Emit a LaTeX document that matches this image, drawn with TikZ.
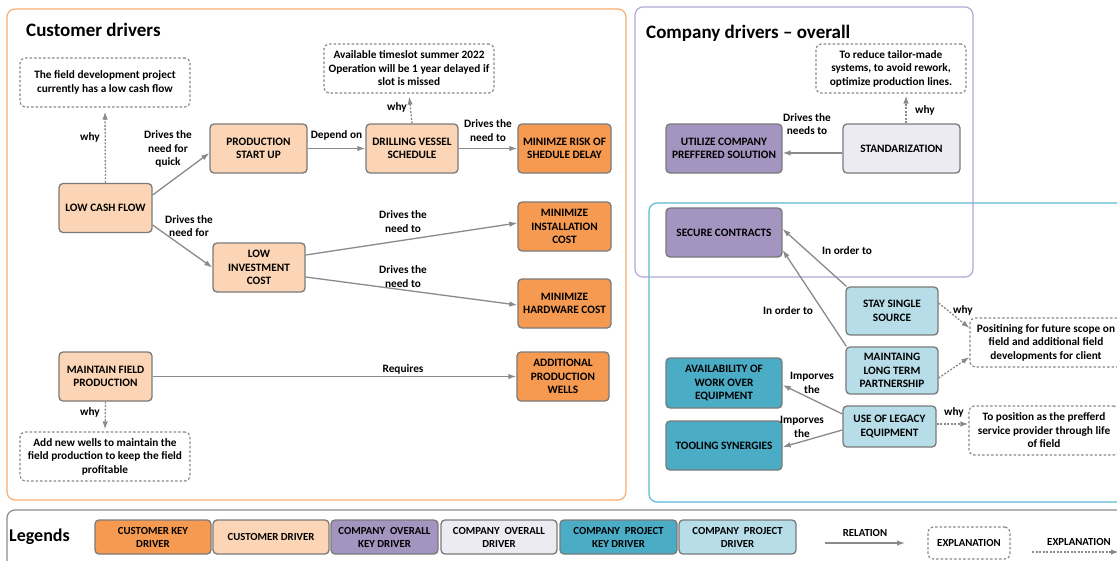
\documentclass[tikz,border=0pt]{standalone}
\usepackage{fontspec}
\setmainfont{Carlito}
\usetikzlibrary{arrows.meta,calc}

% palette
\definecolor{keyorange}{HTML}{F69A52}
\definecolor{lightpeach}{HTML}{FBD5B5}
\definecolor{keypurple}{HTML}{A395C0}
\definecolor{lightlav}{HTML}{EDEBF2}
\definecolor{keyteal}{HTML}{4BACC6}
\definecolor{lightaqua}{HTML}{B7DEE8}
\definecolor{boxline}{HTML}{7A7A7A}
\definecolor{linkgray}{HTML}{8A8A8A}
\definecolor{frameorange}{HTML}{F9AE72}
\definecolor{framepurple}{HTML}{B4A7D6}
\definecolor{frameblue}{HTML}{5BBAD5}
\definecolor{framegray}{HTML}{8C8C8C}

\tikzset{
  x=1pt, y=-1pt,
  txt/.style={font=\fontsize{11.3}{13.5}\selectfont\bfseries, align=center, inner sep=0pt},
  drv/.style={txt, draw=boxline, line width=1.3pt, rounded corners=4pt,
              minimum width=#1, minimum height=49pt},
  drv/.default=93pt,
  ckey/.style={drv=#1, fill=keyorange},
  ckey/.default=93pt,
  cdrv/.style={drv=#1, fill=lightpeach},
  cdrv/.default=93pt,
  okey/.style={drv=#1, fill=keypurple},
  okey/.default=116pt,
  odrv/.style={drv=#1, fill=lightlav},
  odrv/.default=116pt,
  pkey/.style={drv=#1, fill=keyteal},
  pkey/.default=116pt,
  pdrv/.style={drv=#1, fill=lightaqua},
  pdrv/.default=92pt,
  expl/.style={txt, draw=linkgray, line width=1.2pt, dash pattern=on 2.5pt off 2pt,
               rounded corners=5pt, minimum width=#1, minimum height=49pt},
  expl/.default=170pt,
  lbl/.style={txt},
  rel/.style={draw=linkgray, line width=1.3pt, -{Latex[length=8pt,width=5.5pt]}},
  why/.style={rel, dash pattern=on 2pt off 1.5pt},
  frame/.style={line width=1.2pt, rounded corners=8pt},
  title/.style={font=\fontsize{19}{21}\selectfont\bfseries, anchor=west, inner sep=0pt},
  legfont/.style={font=\fontsize{10.8}{13}\selectfont\bfseries},
  legbox/.style={legfont, align=center, inner sep=0pt,
                 draw=boxline, line width=1.3pt, rounded corners=4pt,
                 minimum width=#1, minimum height=34pt},
  legbox/.default=116pt,
}

\begin{document}
\begin{tikzpicture}
\useasboundingbox (0,0) rectangle (1117,560);
\clip (0,0) rectangle (1117,560);
\fill[white] (0,0) rectangle (1117,560);

% group frames
\draw[frame, draw=frameorange] (7,9) rectangle (626,500);
\draw[frame, draw=frameblue] (649,203) rectangle (1140,502);
\draw[frame, draw=framepurple] (635,7) rectangle (973,277);
\draw[frame, draw=framegray] (7,510) rectangle (1140,590);

\node[title] (tcust) at (26,30) {Customer drivers};
\node[title] (tcomp) at (646,33) {Company drivers -- overall};

% ---------- customer drivers ----------
\node[expl] (ex1) at (105,82.5) {The field development project\\currently has a low cash flow};
\node[expl] (ex2) at (409,68.5) {Available timeslot summer 2022\\Operation will be 1 year delayed if\\slot is missed};
\node[expl] (ex3) at (105,456.5) {Add new wells to maintain the\\field production to keep the field\\profitable};

\node[cdrv] (lcf) at (105.5,208) {LOW CASH FLOW};
\node[cdrv=97pt] (psu) at (258.5,148.5) {PRODUCTION\\START UP};
\node[cdrv=92pt] (dvs) at (412,148.5) {DRILLING VESSEL\\SCHEDULE};
\node[ckey] (mrsd) at (564.5,148.5) {MINIMZE RISK OF\\SHEDULE DELAY};
\node[cdrv=92pt] (lic) at (259,267.5) {LOW\\INVESTMENT\\COST};
\node[ckey] (mic) at (564.5,226.5) {MINIMIZE\\INSTALLATION\\COST};
\node[ckey] (mhc) at (564.5,303.5) {MINIMIZE\\HARDWARE COST};
\node[ckey=92pt] (apw) at (563,376.5) {ADDITIONAL\\PRODUCTION\\WELLS};
\node[cdrv] (mfp) at (105.5,376.5) {MAINTAIN FIELD\\PRODUCTION};

\draw[why, shorten >=4pt] (lcf.north) -- (ex1.south);
\draw[rel] ([yshift=13pt]lcf.east) -- ([yshift=-4.5pt]psu.west);
\draw[rel] ([yshift=-17pt]lcf.east) -- (lic.west);
\draw[rel] (psu.east) -- (dvs.west);
\draw[rel] (dvs.east) -- (mrsd.west);
\draw[why, shorten >=3pt] (dvs.north) -- (ex2.south);
\draw[rel] ([yshift=12.5pt]lic.east) -- ([yshift=3.5pt]mic.west);
\draw[rel] ([yshift=-9.5pt]lic.east) -- ([yshift=-1.5pt]mhc.west);
\draw[rel] (mfp.east) -- (apw.west);
\draw[why, shorten >=2pt] (mfp.south) -- (ex3.north);

\node[lbl] (l1) at (90,137) {why};
\node[lbl] (l2) at (168,149) {Drives the\\need for\\quick};
\node[lbl] (l3) at (189,226) {Drives the\\need for};
\node[lbl] (l4) at (336.5,135) {Depend on};
\node[lbl] (l5) at (488,130.5) {Drives the\\need to};
\node[lbl] (l6) at (397,107) {why};
\node[lbl] (l7) at (403,221.5) {Drives the\\need to};
\node[lbl] (l8) at (403,276.5) {Drives the\\need to};
\node[lbl] (l9) at (403,369) {Requires};
\node[lbl] (l10) at (90,412) {why};

% ---------- company drivers, overall ----------
\node[expl=150pt] (ex4) at (891,68.5) {To reduce tailor-made\\systems, to avoid rework,\\optimize production lines.};
\node[okey] (ucp) at (724,148.5) {UTILIZE COMPANY\\PREFFERED SOLUTION};
\node[odrv=117pt] (std) at (901.5,148.5) {STANDARIZATION};

\draw[rel] ([yshift=-4.5pt]std.west) -- ([yshift=-4.5pt]ucp.east);
\draw[why, shorten >=2pt] ([xshift=4.5pt]std.north) -- ([xshift=4.5pt]std.north |- ex4.south);

\node[lbl] (l11) at (807,124) {Drives the\\needs to};
\node[lbl] (l12) at (925,110) {why};

% ---------- company drivers, project ----------
\node[okey] (sc) at (724,232.5) {SECURE CONTRACTS};
\node[pdrv, minimum height=48pt] (sss) at (892,311) {STAY SINGLE\\SOURCE};
\node[pdrv, minimum height=47pt] (mltp) at (892,370.5) {MAINTAING\\LONG TERM\\PARTNERSHIP};
\node[pdrv=93pt, minimum height=41pt] (ule) at (889.5,426.5) {USE OF LEGACY\\EQUIPMENT};
\node[pkey, minimum height=50pt] (awoe) at (724,383) {AVAILABILITY OF\\WORK OVER\\EQUIPMENT};
\node[pkey] (ts) at (724,445.5) {TOOLING SYNERGIES};
\node[expl=152pt] (ex5) at (1046,342.5) {Positining for future scope on\\field and additional field\\developments for client};
\node[expl=150pt] (ex6) at (1044,430.5) {To position as the prefferd\\service provider through life\\of field};

\draw[rel] ([xshift=1pt]sss.north west) -- ([yshift=3.5pt]sc.east);
\draw[rel] ([xshift=1pt]mltp.north west) -- ([yshift=-17.5pt]sc.east);
\draw[why] ([yshift=8pt]sss.east) -- ([yshift=14.5pt]ex5.west);
\draw[why] ([yshift=-7.5pt]mltp.east) -- ([yshift=-14.5pt]ex5.west);
\draw[rel] ([yshift=12.5pt]ule.west) -- ([yshift=-2pt]awoe.east);
\draw[rel] ([yshift=-3.5pt]ule.west) -- ([yshift=-1.5pt]ts.east);
\draw[why] ([yshift=2.5pt]ule.east) -- ([yshift=6.5pt]ex6.west);

\node[lbl] (l13) at (847,251) {In order to};
\node[lbl] (l14) at (788,311) {In order to};
\node[lbl] (l15) at (963,310) {why};
\node[lbl] (l16) at (812,383) {Imporves\\the};
\node[lbl] (l17) at (802,427) {Imporves\\the};
\node[lbl] (l18) at (954,412) {why};

% ---------- legend ----------
\node[title, font=\fontsize{18}{20}\selectfont\bfseries] (tleg) at (9,537) {Legends};
\node[legbox, fill=keyorange] (g1) at (153,537) {CUSTOMER KEY\\DRIVER};
\node[legbox, fill=lightpeach] (g2) at (271,537) {CUSTOMER DRIVER};
\node[legbox=107pt, fill=keypurple] (g3) at (384.5,537) {COMPANY~ OVERALL\\KEY DRIVER};
\node[legbox, fill=lightlav] (g4) at (499,537) {COMPANY~ OVERALL\\DRIVER};
\node[legbox=117pt, fill=keyteal] (g5) at (618.5,537) {COMPANY~ PROJECT\\KEY DRIVER};
\node[legbox=117pt, fill=lightaqua] (g6) at (737.5,537) {COMPANY~ PROJECT\\DRIVER};

\node[lbl, legfont] (grel) at (865,533) {RELATION};
\coordinate (ra) at (825,543);
\coordinate (rb) at (905,543);
\draw[rel] (ra) -- (rb);

\node[expl=82pt, minimum height=32pt, legfont] (gexp) at (969,543) {EXPLANATION};

\node[lbl, legfont] (gwhy) at (1079,542) {EXPLANATION};
\coordinate (wa) at (1032,552);
\coordinate (wb) at (1119,552);
\draw[why] (wa) -- (wb);
\end{tikzpicture}
\end{document}
